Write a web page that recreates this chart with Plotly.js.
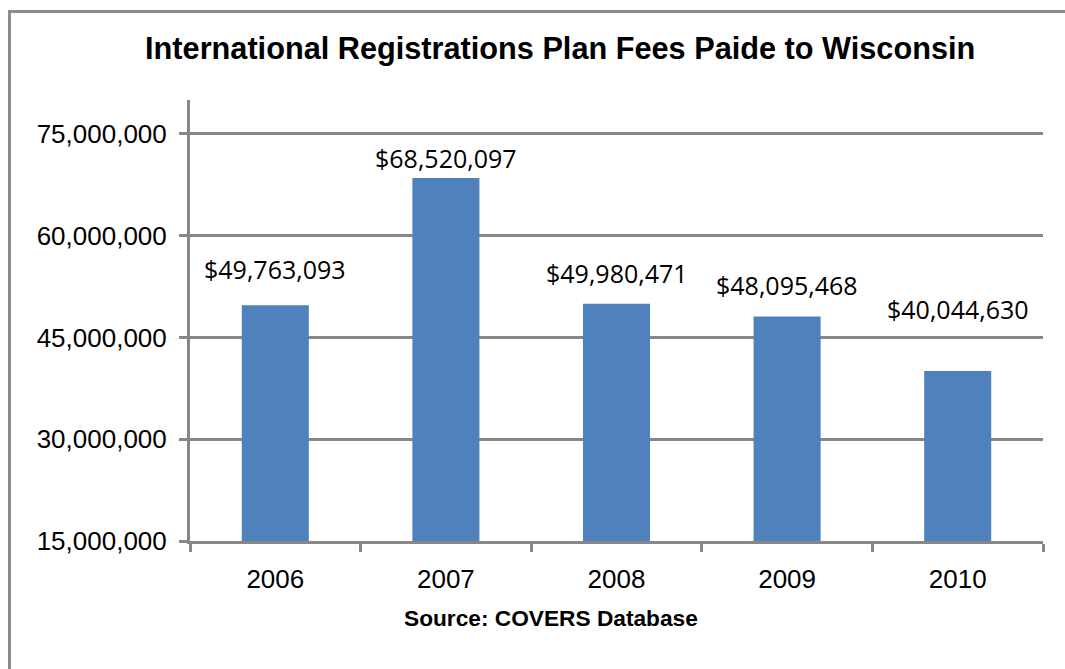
<!DOCTYPE html>
<html>
<head>
<meta charset="utf-8">
<script src="https://cdn.plot.ly/plotly-3.0.1.min.js"></script>
<style>
  html, body { margin: 0; padding: 0; background: #ffffff; }
  #frame { position: absolute; left: 8px; top: 10px; width: 1100px; height: 700px;
           border-left: 3px solid #8c8c8c; border-top: 3px solid #8c8c8c; box-sizing: border-box; }
  #chart { position: absolute; left: 0; top: 0; width: 1065px; height: 669px; }
</style>
</head>
<body>
<div id="frame"></div>
<div id="chart"></div>
<script>
// Data
const years = ["2006", "2007", "2008", "2009", "2010"];
const fees = [49763093, 68520097, 49980471, 48095468, 40044630];
const feeLabels = ["$49,763,093", "$68,520,097", "$49,980,471", "$48,095,468", "$40,044,630"];

// Styling (label offsets above bar tops, in px)
const labelShift = [36, 20, 31, 31, 62];
const gridColor = "#878787";

const trace = {
  type: "bar",
  x: years,
  y: fees,
  marker: { color: "#4F81BD" },
  hoverinfo: "x+y"
};

// annotations placed by category index on the category axis
const annotations = years.map((yr, i) => ({
  x: i, y: fees[i], xref: "x", yref: "y",
  text: feeLabels[i], showarrow: false,
  yanchor: "middle", xanchor: "center", yshift: labelShift[i],
  font: { family: "Open Sans, sans-serif", size: 25, color: "#000000" }
}));

annotations.push({
  xref: "paper", yref: "paper", x: 0.423, y: -0.175,
  text: "<b>Source: COVERS Database</b>", showarrow: false,
  xanchor: "center", yanchor: "middle",
  font: { family: "Liberation Sans, Arial, sans-serif", size: 22.7, color: "#000000" }
});

const layout = {
  width: 1065, height: 669,
  margin: { l: 190, r: 22, t: 100, b: 128 },
  paper_bgcolor: "rgba(0,0,0,0)",
  plot_bgcolor: "rgba(0,0,0,0)",
  showlegend: false,
  bargap: 0.607,
  title: {
    text: "<b>International Registrations Plan Fees Paide to Wisconsin</b>",
    xref: "container", yref: "container", x: 0.526, y: 1 - 48 / 669,
    xanchor: "center", yanchor: "middle",
    font: { family: "Liberation Sans, Arial, sans-serif", size: 30.7, color: "#000000" }
  },
  xaxis: {
    type: "category",
    range: [-0.5, years.length - 0.5],
    tickson: "boundaries",
    ticks: "outside", ticklen: 8, tickwidth: 3, tickcolor: gridColor,
    showline: true, linecolor: gridColor, linewidth: 3,
    showgrid: false,
    ticklabelstandoff: 13,
    tickfont: { family: "Liberation Sans, Arial, sans-serif", size: 26, color: "#000000" }
  },
  yaxis: {
    range: [15000000, 80000000],
    tick0: 15000000, dtick: 15000000,
    tickformat: ",d",
    ticks: "outside", ticklen: 8, tickwidth: 3, tickcolor: gridColor,
    showline: true, linecolor: gridColor, linewidth: 3,
    showgrid: true, gridcolor: gridColor, gridwidth: 3,
    zeroline: false,
    ticklabelstandoff: 7,
    tickfont: { family: "Liberation Sans, Arial, sans-serif", size: 26, color: "#000000" }
  },
  annotations: annotations
};

Plotly.newPlot("chart", [trace], layout, { displayModeBar: false, staticPlot: true });
</script>
</body>
</html>
